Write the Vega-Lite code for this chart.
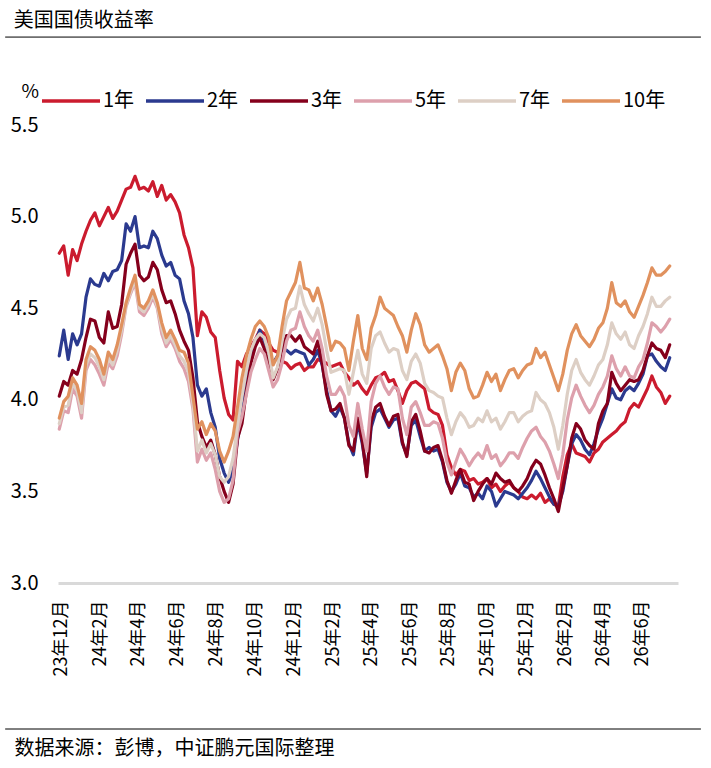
{
  "$schema": "https://vega.github.io/schema/vega-lite/v6.json",
  "background": "#ffffff",
  "padding": {"left": 4, "top": 10, "right": 5, "bottom": 6},
  "title": {"text": "美国国债收益率", "anchor": "start", "frame": "bounds", "fontSize": 20, "fontWeight": "normal", "color": "#000000", "offset": 6, "dx": 9},
  "width": 620,
  "height": 458,
  "config": {
    "font": "Noto Sans CJK SC",
    "view": {"stroke": null}
  },
  "layer": [
    {
      "data": {
        "format": {"parse": {"d": "date:'%Y-%m-%d'"}},
        "values": [
{"d":"2023-11-28","s":"1年","v":4.80},{"d":"2023-12-05","s":"1年","v":4.84},{"d":"2023-12-12","s":"1年","v":4.68},{"d":"2023-12-19","s":"1年","v":4.82},{"d":"2023-12-26","s":"1年","v":4.76},
{"d":"2024-01-02","s":"1年","v":4.85},{"d":"2024-01-09","s":"1年","v":4.92},{"d":"2024-01-16","s":"1年","v":4.98},{"d":"2024-01-23","s":"1年","v":5.02},{"d":"2024-01-30","s":"1年","v":4.95},
{"d":"2024-02-06","s":"1年","v":5.00},{"d":"2024-02-13","s":"1年","v":5.05},{"d":"2024-02-20","s":"1年","v":4.99},{"d":"2024-02-27","s":"1年","v":5.03},{"d":"2024-03-05","s":"1年","v":5.09},
{"d":"2024-03-12","s":"1年","v":5.15},{"d":"2024-03-19","s":"1年","v":5.16},{"d":"2024-03-26","s":"1年","v":5.22},{"d":"2024-04-02","s":"1年","v":5.15},{"d":"2024-04-09","s":"1年","v":5.16},
{"d":"2024-04-16","s":"1年","v":5.14},{"d":"2024-04-23","s":"1年","v":5.19},{"d":"2024-04-30","s":"1年","v":5.11},{"d":"2024-05-07","s":"1年","v":5.17},{"d":"2024-05-14","s":"1年","v":5.09},
{"d":"2024-05-21","s":"1年","v":5.12},{"d":"2024-05-28","s":"1年","v":5.08},{"d":"2024-06-04","s":"1年","v":5.02},{"d":"2024-06-11","s":"1年","v":4.90},{"d":"2024-06-18","s":"1年","v":4.83},
{"d":"2024-06-25","s":"1年","v":4.72},{"d":"2024-07-02","s":"1年","v":4.35},{"d":"2024-07-09","s":"1年","v":4.48},{"d":"2024-07-16","s":"1年","v":4.45},{"d":"2024-07-23","s":"1年","v":4.37},
{"d":"2024-07-30","s":"1年","v":4.34},{"d":"2024-08-06","s":"1年","v":4.16},{"d":"2024-08-13","s":"1年","v":4.01},{"d":"2024-08-20","s":"1年","v":3.92},{"d":"2024-08-27","s":"1年","v":3.89},
{"d":"2024-09-03","s":"1年","v":4.21},{"d":"2024-09-10","s":"1年","v":4.18},{"d":"2024-09-17","s":"1年","v":4.25},{"d":"2024-09-24","s":"1年","v":4.29},{"d":"2024-10-01","s":"1年","v":4.33},
{"d":"2024-10-08","s":"1年","v":4.38},{"d":"2024-10-15","s":"1年","v":4.36},{"d":"2024-10-22","s":"1年","v":4.31},{"d":"2024-10-29","s":"1年","v":4.27},{"d":"2024-11-05","s":"1年","v":4.26},
{"d":"2024-11-12","s":"1年","v":4.21},{"d":"2024-11-19","s":"1年","v":4.20},{"d":"2024-11-26","s":"1年","v":4.17},{"d":"2024-12-03","s":"1年","v":4.19},{"d":"2024-12-10","s":"1年","v":4.20},
{"d":"2024-12-17","s":"1年","v":4.16},{"d":"2024-12-24","s":"1年","v":4.18},{"d":"2024-12-31","s":"1年","v":4.18},{"d":"2025-01-07","s":"1年","v":4.22},{"d":"2025-01-14","s":"1年","v":4.21},
{"d":"2025-01-21","s":"1年","v":4.20},{"d":"2025-01-28","s":"1年","v":4.18},{"d":"2025-02-04","s":"1年","v":4.19},{"d":"2025-02-11","s":"1年","v":4.20},{"d":"2025-02-18","s":"1年","v":4.15},
{"d":"2025-02-25","s":"1年","v":4.12},{"d":"2025-03-04","s":"1年","v":4.08},{"d":"2025-03-11","s":"1年","v":4.10},{"d":"2025-03-18","s":"1年","v":4.06},{"d":"2025-03-25","s":"1年","v":4.03},
{"d":"2025-04-01","s":"1年","v":4.08},{"d":"2025-04-08","s":"1年","v":4.12},{"d":"2025-04-15","s":"1年","v":4.13},{"d":"2025-04-22","s":"1年","v":4.15},{"d":"2025-04-29","s":"1年","v":4.10},
{"d":"2025-05-06","s":"1年","v":4.11},{"d":"2025-05-13","s":"1年","v":4.05},{"d":"2025-05-20","s":"1年","v":3.98},{"d":"2025-05-27","s":"1年","v":4.05},{"d":"2025-06-03","s":"1年","v":4.09},
{"d":"2025-06-10","s":"1年","v":4.10},{"d":"2025-06-17","s":"1年","v":4.08},{"d":"2025-06-24","s":"1年","v":4.06},{"d":"2025-07-01","s":"1年","v":3.95},{"d":"2025-07-08","s":"1年","v":3.93},
{"d":"2025-07-15","s":"1年","v":3.92},{"d":"2025-07-22","s":"1年","v":3.86},{"d":"2025-07-29","s":"1年","v":3.70},{"d":"2025-08-05","s":"1年","v":3.63},{"d":"2025-08-12","s":"1年","v":3.59},
{"d":"2025-08-19","s":"1年","v":3.62},{"d":"2025-08-26","s":"1年","v":3.61},{"d":"2025-09-02","s":"1年","v":3.56},{"d":"2025-09-09","s":"1年","v":3.57},{"d":"2025-09-16","s":"1年","v":3.54},
{"d":"2025-09-23","s":"1年","v":3.55},{"d":"2025-09-30","s":"1年","v":3.57},{"d":"2025-10-07","s":"1年","v":3.52},{"d":"2025-10-14","s":"1年","v":3.54},{"d":"2025-10-21","s":"1年","v":3.50},
{"d":"2025-10-28","s":"1年","v":3.53},{"d":"2025-11-04","s":"1年","v":3.55},{"d":"2025-11-11","s":"1年","v":3.52},{"d":"2025-11-18","s":"1年","v":3.50},{"d":"2025-11-25","s":"1年","v":3.47},
{"d":"2025-12-02","s":"1年","v":3.46},{"d":"2025-12-09","s":"1年","v":3.48},{"d":"2025-12-16","s":"1年","v":3.46},{"d":"2025-12-23","s":"1年","v":3.49},{"d":"2025-12-30","s":"1年","v":3.44},
{"d":"2026-01-06","s":"1年","v":3.46},{"d":"2026-01-13","s":"1年","v":3.43},{"d":"2026-01-20","s":"1年","v":3.42},{"d":"2026-01-27","s":"1年","v":3.58},{"d":"2026-02-03","s":"1年","v":3.70},
{"d":"2026-02-10","s":"1年","v":3.76},{"d":"2026-02-17","s":"1年","v":3.71},{"d":"2026-02-24","s":"1年","v":3.70},{"d":"2026-03-03","s":"1年","v":3.69},{"d":"2026-03-10","s":"1年","v":3.66},
{"d":"2026-03-17","s":"1年","v":3.71},{"d":"2026-03-24","s":"1年","v":3.73},{"d":"2026-03-31","s":"1年","v":3.77},{"d":"2026-04-07","s":"1年","v":3.79},{"d":"2026-04-14","s":"1年","v":3.81},
{"d":"2026-04-21","s":"1年","v":3.83},{"d":"2026-04-28","s":"1年","v":3.86},{"d":"2026-05-05","s":"1年","v":3.88},{"d":"2026-05-12","s":"1年","v":3.95},{"d":"2026-05-19","s":"1年","v":3.98},
{"d":"2026-05-26","s":"1年","v":3.96},{"d":"2026-06-02","s":"1年","v":4.01},{"d":"2026-06-09","s":"1年","v":4.06},{"d":"2026-06-16","s":"1年","v":4.13},{"d":"2026-06-23","s":"1年","v":4.07},
{"d":"2026-06-30","s":"1年","v":4.04},{"d":"2026-07-07","s":"1年","v":3.98},{"d":"2026-07-14","s":"1年","v":4.02},

{"d":"2023-11-28","s":"2年","v":4.24},{"d":"2023-12-05","s":"2年","v":4.38},{"d":"2023-12-12","s":"2年","v":4.22},{"d":"2023-12-19","s":"2年","v":4.36},{"d":"2023-12-26","s":"2年","v":4.30},
{"d":"2024-01-02","s":"2年","v":4.36},{"d":"2024-01-09","s":"2年","v":4.56},{"d":"2024-01-16","s":"2年","v":4.66},{"d":"2024-01-23","s":"2年","v":4.63},{"d":"2024-01-30","s":"2年","v":4.62},
{"d":"2024-02-06","s":"2年","v":4.69},{"d":"2024-02-13","s":"2年","v":4.65},{"d":"2024-02-20","s":"2年","v":4.70},{"d":"2024-02-27","s":"2年","v":4.71},{"d":"2024-03-05","s":"2年","v":4.76},
{"d":"2024-03-12","s":"2年","v":4.96},{"d":"2024-03-19","s":"2年","v":4.92},{"d":"2024-03-26","s":"2年","v":5.00},{"d":"2024-04-02","s":"2年","v":4.83},{"d":"2024-04-09","s":"2年","v":4.84},
{"d":"2024-04-16","s":"2年","v":4.83},{"d":"2024-04-23","s":"2年","v":4.92},{"d":"2024-04-30","s":"2年","v":4.88},{"d":"2024-05-07","s":"2年","v":4.79},{"d":"2024-05-14","s":"2年","v":4.73},
{"d":"2024-05-21","s":"2年","v":4.75},{"d":"2024-05-28","s":"2年","v":4.68},{"d":"2024-06-04","s":"2年","v":4.66},{"d":"2024-06-11","s":"2年","v":4.54},{"d":"2024-06-18","s":"2年","v":4.47},
{"d":"2024-06-25","s":"2年","v":4.34},{"d":"2024-07-02","s":"2年","v":4.08},{"d":"2024-07-09","s":"2年","v":4.02},{"d":"2024-07-16","s":"2年","v":4.06},{"d":"2024-07-23","s":"2年","v":3.93},
{"d":"2024-07-30","s":"2年","v":3.85},{"d":"2024-08-06","s":"2年","v":3.68},{"d":"2024-08-13","s":"2年","v":3.60},{"d":"2024-08-20","s":"2年","v":3.55},{"d":"2024-08-27","s":"2年","v":3.62},
{"d":"2024-09-03","s":"2年","v":3.78},{"d":"2024-09-10","s":"2年","v":3.92},{"d":"2024-09-17","s":"2年","v":4.09},{"d":"2024-09-24","s":"2年","v":4.22},{"d":"2024-10-01","s":"2年","v":4.31},
{"d":"2024-10-08","s":"2年","v":4.38},{"d":"2024-10-15","s":"2年","v":4.32},{"d":"2024-10-22","s":"2年","v":4.26},{"d":"2024-10-29","s":"2年","v":4.20},{"d":"2024-11-05","s":"2年","v":4.24},
{"d":"2024-11-12","s":"2年","v":4.28},{"d":"2024-11-19","s":"2年","v":4.27},{"d":"2024-11-26","s":"2年","v":4.25},{"d":"2024-12-03","s":"2年","v":4.27},{"d":"2024-12-10","s":"2年","v":4.26},
{"d":"2024-12-17","s":"2年","v":4.25},{"d":"2024-12-24","s":"2年","v":4.19},{"d":"2024-12-31","s":"2年","v":4.22},{"d":"2025-01-07","s":"2年","v":4.27},{"d":"2025-01-14","s":"2年","v":4.19},
{"d":"2025-01-21","s":"2年","v":4.05},{"d":"2025-01-28","s":"2年","v":3.94},{"d":"2025-02-04","s":"2年","v":3.91},{"d":"2025-02-11","s":"2年","v":3.96},{"d":"2025-02-18","s":"2年","v":3.90},
{"d":"2025-02-25","s":"2年","v":3.76},{"d":"2025-03-04","s":"2年","v":3.70},{"d":"2025-03-11","s":"2年","v":3.88},{"d":"2025-03-18","s":"2年","v":3.76},{"d":"2025-03-25","s":"2年","v":3.60},
{"d":"2025-04-01","s":"2年","v":3.85},{"d":"2025-04-08","s":"2年","v":3.93},{"d":"2025-04-15","s":"2年","v":3.95},{"d":"2025-04-22","s":"2年","v":3.90},{"d":"2025-04-29","s":"2年","v":3.85},
{"d":"2025-05-06","s":"2年","v":3.89},{"d":"2025-05-13","s":"2年","v":3.90},{"d":"2025-05-20","s":"2年","v":3.76},{"d":"2025-05-27","s":"2年","v":3.70},{"d":"2025-06-03","s":"2年","v":3.86},
{"d":"2025-06-10","s":"2年","v":3.89},{"d":"2025-06-17","s":"2年","v":3.80},{"d":"2025-06-24","s":"2年","v":3.72},{"d":"2025-07-01","s":"2年","v":3.74},{"d":"2025-07-08","s":"2年","v":3.72},
{"d":"2025-07-15","s":"2年","v":3.73},{"d":"2025-07-22","s":"2年","v":3.66},{"d":"2025-07-29","s":"2年","v":3.55},{"d":"2025-08-05","s":"2年","v":3.50},{"d":"2025-08-12","s":"2年","v":3.54},
{"d":"2025-08-19","s":"2年","v":3.60},{"d":"2025-08-26","s":"2年","v":3.53},{"d":"2025-09-02","s":"2年","v":3.52},{"d":"2025-09-09","s":"2年","v":3.47},{"d":"2025-09-16","s":"2年","v":3.49},
{"d":"2025-09-23","s":"2年","v":3.46},{"d":"2025-09-30","s":"2年","v":3.53},{"d":"2025-10-07","s":"2年","v":3.50},{"d":"2025-10-14","s":"2年","v":3.42},{"d":"2025-10-21","s":"2年","v":3.46},
{"d":"2025-10-28","s":"2年","v":3.50},{"d":"2025-11-04","s":"2年","v":3.49},{"d":"2025-11-11","s":"2年","v":3.48},{"d":"2025-11-18","s":"2年","v":3.46},{"d":"2025-11-25","s":"2年","v":3.49},
{"d":"2025-12-02","s":"2年","v":3.52},{"d":"2025-12-09","s":"2年","v":3.56},{"d":"2025-12-16","s":"2年","v":3.61},{"d":"2025-12-23","s":"2年","v":3.57},{"d":"2025-12-30","s":"2年","v":3.52},
{"d":"2026-01-06","s":"2年","v":3.47},{"d":"2026-01-13","s":"2年","v":3.43},{"d":"2026-01-20","s":"2年","v":3.42},{"d":"2026-01-27","s":"2年","v":3.50},{"d":"2026-02-03","s":"2年","v":3.64},
{"d":"2026-02-10","s":"2年","v":3.76},{"d":"2026-02-17","s":"2年","v":3.81},{"d":"2026-02-24","s":"2年","v":3.78},{"d":"2026-03-03","s":"2年","v":3.73},{"d":"2026-03-10","s":"2年","v":3.70},
{"d":"2026-03-17","s":"2年","v":3.76},{"d":"2026-03-24","s":"2年","v":3.84},{"d":"2026-03-31","s":"2年","v":3.90},{"d":"2026-04-07","s":"2年","v":3.98},{"d":"2026-04-14","s":"2年","v":4.06},
{"d":"2026-04-21","s":"2年","v":4.01},{"d":"2026-04-28","s":"2年","v":4.00},{"d":"2026-05-05","s":"2年","v":4.05},{"d":"2026-05-12","s":"2年","v":4.07},{"d":"2026-05-19","s":"2年","v":4.05},
{"d":"2026-05-26","s":"2年","v":4.09},{"d":"2026-06-02","s":"2年","v":4.14},{"d":"2026-06-09","s":"2年","v":4.24},{"d":"2026-06-16","s":"2年","v":4.25},{"d":"2026-06-23","s":"2年","v":4.21},
{"d":"2026-06-30","s":"2年","v":4.18},{"d":"2026-07-07","s":"2年","v":4.16},{"d":"2026-07-14","s":"2年","v":4.23},

{"d":"2023-11-28","s":"3年","v":4.02},{"d":"2023-12-05","s":"3年","v":4.10},{"d":"2023-12-12","s":"3年","v":4.08},{"d":"2023-12-19","s":"3年","v":4.16},{"d":"2023-12-26","s":"3年","v":4.14},
{"d":"2024-01-02","s":"3年","v":4.22},{"d":"2024-01-09","s":"3年","v":4.34},{"d":"2024-01-16","s":"3年","v":4.44},{"d":"2024-01-23","s":"3年","v":4.43},{"d":"2024-01-30","s":"3年","v":4.34},
{"d":"2024-02-06","s":"3年","v":4.31},{"d":"2024-02-13","s":"3年","v":4.48},{"d":"2024-02-20","s":"3年","v":4.39},{"d":"2024-02-27","s":"3年","v":4.40},{"d":"2024-03-05","s":"3年","v":4.52},
{"d":"2024-03-12","s":"3年","v":4.74},{"d":"2024-03-19","s":"3年","v":4.80},{"d":"2024-03-26","s":"3年","v":4.85},{"d":"2024-04-02","s":"3年","v":4.68},{"d":"2024-04-09","s":"3年","v":4.65},
{"d":"2024-04-16","s":"3年","v":4.67},{"d":"2024-04-23","s":"3年","v":4.75},{"d":"2024-04-30","s":"3年","v":4.71},{"d":"2024-05-07","s":"3年","v":4.60},{"d":"2024-05-14","s":"3年","v":4.53},
{"d":"2024-05-21","s":"3年","v":4.54},{"d":"2024-05-28","s":"3年","v":4.47},{"d":"2024-06-04","s":"3年","v":4.38},{"d":"2024-06-11","s":"3年","v":4.32},{"d":"2024-06-18","s":"3年","v":4.27},
{"d":"2024-06-25","s":"3年","v":4.12},{"d":"2024-07-02","s":"3年","v":3.88},{"d":"2024-07-09","s":"3年","v":3.80},{"d":"2024-07-16","s":"3年","v":3.74},{"d":"2024-07-23","s":"3年","v":3.78},
{"d":"2024-07-30","s":"3年","v":3.70},{"d":"2024-08-06","s":"3年","v":3.58},{"d":"2024-08-13","s":"3年","v":3.50},{"d":"2024-08-20","s":"3年","v":3.44},{"d":"2024-08-27","s":"3年","v":3.54},
{"d":"2024-09-03","s":"3年","v":3.79},{"d":"2024-09-10","s":"3年","v":3.87},{"d":"2024-09-17","s":"3年","v":4.05},{"d":"2024-09-24","s":"3年","v":4.20},{"d":"2024-10-01","s":"3年","v":4.29},
{"d":"2024-10-08","s":"3年","v":4.34},{"d":"2024-10-15","s":"3年","v":4.28},{"d":"2024-10-22","s":"3年","v":4.20},{"d":"2024-10-29","s":"3年","v":4.11},{"d":"2024-11-05","s":"3年","v":4.17},
{"d":"2024-11-12","s":"3年","v":4.28},{"d":"2024-11-19","s":"3年","v":4.35},{"d":"2024-11-26","s":"3年","v":4.35},{"d":"2024-12-03","s":"3年","v":4.32},{"d":"2024-12-10","s":"3年","v":4.35},
{"d":"2024-12-17","s":"3年","v":4.29},{"d":"2024-12-24","s":"3年","v":4.27},{"d":"2024-12-31","s":"3年","v":4.25},{"d":"2025-01-07","s":"3年","v":4.32},{"d":"2025-01-14","s":"3年","v":4.20},
{"d":"2025-01-21","s":"3年","v":4.03},{"d":"2025-01-28","s":"3年","v":3.94},{"d":"2025-02-04","s":"3年","v":3.95},{"d":"2025-02-11","s":"3年","v":3.98},{"d":"2025-02-18","s":"3年","v":3.90},
{"d":"2025-02-25","s":"3年","v":3.75},{"d":"2025-03-04","s":"3年","v":3.72},{"d":"2025-03-11","s":"3年","v":3.90},{"d":"2025-03-18","s":"3年","v":3.78},{"d":"2025-03-25","s":"3年","v":3.58},
{"d":"2025-04-01","s":"3年","v":3.88},{"d":"2025-04-08","s":"3年","v":3.96},{"d":"2025-04-15","s":"3年","v":3.98},{"d":"2025-04-22","s":"3年","v":3.91},{"d":"2025-04-29","s":"3年","v":3.86},
{"d":"2025-05-06","s":"3年","v":3.91},{"d":"2025-05-13","s":"3年","v":3.92},{"d":"2025-05-20","s":"3年","v":3.77},{"d":"2025-05-27","s":"3年","v":3.69},{"d":"2025-06-03","s":"3年","v":3.88},
{"d":"2025-06-10","s":"3年","v":3.92},{"d":"2025-06-17","s":"3年","v":3.83},{"d":"2025-06-24","s":"3年","v":3.72},{"d":"2025-07-01","s":"3年","v":3.71},{"d":"2025-07-08","s":"3年","v":3.74},
{"d":"2025-07-15","s":"3年","v":3.75},{"d":"2025-07-22","s":"3年","v":3.67},{"d":"2025-07-29","s":"3年","v":3.56},{"d":"2025-08-05","s":"3年","v":3.49},{"d":"2025-08-12","s":"3年","v":3.56},
{"d":"2025-08-19","s":"3年","v":3.62},{"d":"2025-08-26","s":"3年","v":3.55},{"d":"2025-09-02","s":"3年","v":3.54},{"d":"2025-09-09","s":"3年","v":3.45},{"d":"2025-09-16","s":"3年","v":3.50},
{"d":"2025-09-23","s":"3年","v":3.54},{"d":"2025-09-30","s":"3年","v":3.57},{"d":"2025-10-07","s":"3年","v":3.54},{"d":"2025-10-14","s":"3年","v":3.60},{"d":"2025-10-21","s":"3年","v":3.57},
{"d":"2025-10-28","s":"3年","v":3.55},{"d":"2025-11-04","s":"3年","v":3.56},{"d":"2025-11-11","s":"3年","v":3.52},{"d":"2025-11-18","s":"3年","v":3.50},{"d":"2025-11-25","s":"3年","v":3.53},
{"d":"2025-12-02","s":"3年","v":3.57},{"d":"2025-12-09","s":"3年","v":3.63},{"d":"2025-12-16","s":"3年","v":3.67},{"d":"2025-12-23","s":"3年","v":3.65},{"d":"2025-12-30","s":"3年","v":3.59},
{"d":"2026-01-06","s":"3年","v":3.52},{"d":"2026-01-13","s":"3年","v":3.46},{"d":"2026-01-20","s":"3年","v":3.39},{"d":"2026-01-27","s":"3年","v":3.52},{"d":"2026-02-03","s":"3年","v":3.64},
{"d":"2026-02-10","s":"3年","v":3.79},{"d":"2026-02-17","s":"3年","v":3.87},{"d":"2026-02-24","s":"3年","v":3.84},{"d":"2026-03-03","s":"3年","v":3.78},{"d":"2026-03-10","s":"3年","v":3.75},
{"d":"2026-03-17","s":"3年","v":3.73},{"d":"2026-03-24","s":"3年","v":3.87},{"d":"2026-03-31","s":"3年","v":3.94},{"d":"2026-04-07","s":"3年","v":3.98},{"d":"2026-04-14","s":"3年","v":4.15},
{"d":"2026-04-21","s":"3年","v":4.09},{"d":"2026-04-28","s":"3年","v":4.05},{"d":"2026-05-05","s":"3年","v":4.08},{"d":"2026-05-12","s":"3年","v":4.11},{"d":"2026-05-19","s":"3年","v":4.10},
{"d":"2026-05-26","s":"3年","v":4.11},{"d":"2026-06-02","s":"3年","v":4.16},{"d":"2026-06-09","s":"3年","v":4.24},{"d":"2026-06-16","s":"3年","v":4.31},{"d":"2026-06-23","s":"3年","v":4.28},
{"d":"2026-06-30","s":"3年","v":4.27},{"d":"2026-07-07","s":"3年","v":4.23},{"d":"2026-07-14","s":"3年","v":4.30},

{"d":"2023-11-28","s":"5年","v":3.84},{"d":"2023-12-05","s":"5年","v":3.94},{"d":"2023-12-12","s":"5年","v":3.93},{"d":"2023-12-19","s":"5年","v":4.06},{"d":"2023-12-26","s":"5年","v":4.02},
{"d":"2024-01-02","s":"5年","v":3.90},{"d":"2024-01-09","s":"5年","v":4.16},{"d":"2024-01-16","s":"5年","v":4.22},{"d":"2024-01-23","s":"5年","v":4.19},{"d":"2024-01-30","s":"5年","v":4.14},
{"d":"2024-02-06","s":"5年","v":4.08},{"d":"2024-02-13","s":"5年","v":4.20},{"d":"2024-02-20","s":"5年","v":4.17},{"d":"2024-02-27","s":"5年","v":4.24},{"d":"2024-03-05","s":"5年","v":4.36},
{"d":"2024-03-12","s":"5年","v":4.51},{"d":"2024-03-19","s":"5年","v":4.58},{"d":"2024-03-26","s":"5年","v":4.64},{"d":"2024-04-02","s":"5年","v":4.48},{"d":"2024-04-09","s":"5年","v":4.46},
{"d":"2024-04-16","s":"5年","v":4.50},{"d":"2024-04-23","s":"5年","v":4.56},{"d":"2024-04-30","s":"5年","v":4.50},{"d":"2024-05-07","s":"5年","v":4.36},{"d":"2024-05-14","s":"5年","v":4.29},
{"d":"2024-05-21","s":"5年","v":4.33},{"d":"2024-05-28","s":"5年","v":4.28},{"d":"2024-06-04","s":"5年","v":4.21},{"d":"2024-06-11","s":"5年","v":4.17},{"d":"2024-06-18","s":"5年","v":4.10},
{"d":"2024-06-25","s":"5年","v":3.95},{"d":"2024-07-02","s":"5年","v":3.66},{"d":"2024-07-09","s":"5年","v":3.73},{"d":"2024-07-16","s":"5年","v":3.67},{"d":"2024-07-23","s":"5年","v":3.71},
{"d":"2024-07-30","s":"5年","v":3.62},{"d":"2024-08-06","s":"5年","v":3.50},{"d":"2024-08-13","s":"5年","v":3.44},{"d":"2024-08-20","s":"5年","v":3.46},{"d":"2024-08-27","s":"5年","v":3.56},
{"d":"2024-09-03","s":"5年","v":3.82},{"d":"2024-09-10","s":"5年","v":3.91},{"d":"2024-09-17","s":"5年","v":4.03},{"d":"2024-09-24","s":"5年","v":4.15},{"d":"2024-10-01","s":"5年","v":4.22},
{"d":"2024-10-08","s":"5年","v":4.28},{"d":"2024-10-15","s":"5年","v":4.25},{"d":"2024-10-22","s":"5年","v":4.16},{"d":"2024-10-29","s":"5年","v":4.07},{"d":"2024-11-05","s":"5年","v":4.11},
{"d":"2024-11-12","s":"5年","v":4.20},{"d":"2024-11-19","s":"5年","v":4.32},{"d":"2024-11-26","s":"5年","v":4.38},{"d":"2024-12-03","s":"5年","v":4.39},{"d":"2024-12-10","s":"5年","v":4.48},
{"d":"2024-12-17","s":"5年","v":4.40},{"d":"2024-12-24","s":"5年","v":4.35},{"d":"2024-12-31","s":"5年","v":4.32},{"d":"2025-01-07","s":"5年","v":4.38},{"d":"2025-01-14","s":"5年","v":4.28},
{"d":"2025-01-21","s":"5年","v":4.13},{"d":"2025-01-28","s":"5年","v":4.03},{"d":"2025-02-04","s":"5年","v":4.03},{"d":"2025-02-11","s":"5年","v":4.07},{"d":"2025-02-18","s":"5年","v":4.02},
{"d":"2025-02-25","s":"5年","v":3.86},{"d":"2025-03-04","s":"5年","v":3.80},{"d":"2025-03-11","s":"5年","v":3.98},{"d":"2025-03-18","s":"5年","v":3.84},{"d":"2025-03-25","s":"5年","v":3.72},
{"d":"2025-04-01","s":"5年","v":3.99},{"d":"2025-04-08","s":"5年","v":4.09},{"d":"2025-04-15","s":"5年","v":4.13},{"d":"2025-04-22","s":"5年","v":4.07},{"d":"2025-04-29","s":"5年","v":4.03},
{"d":"2025-05-06","s":"5年","v":4.07},{"d":"2025-05-13","s":"5年","v":4.06},{"d":"2025-05-20","s":"5年","v":3.90},{"d":"2025-05-27","s":"5年","v":3.81},{"d":"2025-06-03","s":"5年","v":3.96},
{"d":"2025-06-10","s":"5年","v":3.99},{"d":"2025-06-17","s":"5年","v":3.93},{"d":"2025-06-24","s":"5年","v":3.86},{"d":"2025-07-01","s":"5年","v":3.86},{"d":"2025-07-08","s":"5年","v":3.88},
{"d":"2025-07-15","s":"5年","v":3.87},{"d":"2025-07-22","s":"5年","v":3.79},{"d":"2025-07-29","s":"5年","v":3.66},{"d":"2025-08-05","s":"5年","v":3.59},{"d":"2025-08-12","s":"5年","v":3.66},
{"d":"2025-08-19","s":"5年","v":3.73},{"d":"2025-08-26","s":"5年","v":3.69},{"d":"2025-09-02","s":"5年","v":3.64},{"d":"2025-09-09","s":"5年","v":3.68},{"d":"2025-09-16","s":"5年","v":3.71},
{"d":"2025-09-23","s":"5年","v":3.68},{"d":"2025-09-30","s":"5年","v":3.75},{"d":"2025-10-07","s":"5年","v":3.68},{"d":"2025-10-14","s":"5年","v":3.70},{"d":"2025-10-21","s":"5年","v":3.64},
{"d":"2025-10-28","s":"5年","v":3.67},{"d":"2025-11-04","s":"5年","v":3.71},{"d":"2025-11-11","s":"5年","v":3.71},{"d":"2025-11-18","s":"5年","v":3.68},{"d":"2025-11-25","s":"5年","v":3.74},
{"d":"2025-12-02","s":"5年","v":3.79},{"d":"2025-12-09","s":"5年","v":3.83},{"d":"2025-12-16","s":"5年","v":3.85},{"d":"2025-12-23","s":"5年","v":3.80},{"d":"2025-12-30","s":"5年","v":3.77},
{"d":"2026-01-06","s":"5年","v":3.72},{"d":"2026-01-13","s":"5年","v":3.65},{"d":"2026-01-20","s":"5年","v":3.57},{"d":"2026-01-27","s":"5年","v":3.70},{"d":"2026-02-03","s":"5年","v":3.89},
{"d":"2026-02-10","s":"5年","v":4.01},{"d":"2026-02-17","s":"5年","v":4.08},{"d":"2026-02-24","s":"5年","v":4.02},{"d":"2026-03-03","s":"5年","v":3.97},{"d":"2026-03-10","s":"5年","v":3.93},
{"d":"2026-03-17","s":"5年","v":3.97},{"d":"2026-03-24","s":"5年","v":4.03},{"d":"2026-03-31","s":"5年","v":4.07},{"d":"2026-04-07","s":"5年","v":4.13},{"d":"2026-04-14","s":"5年","v":4.24},
{"d":"2026-04-21","s":"5年","v":4.17},{"d":"2026-04-28","s":"5年","v":4.13},{"d":"2026-05-05","s":"5年","v":4.18},{"d":"2026-05-12","s":"5年","v":4.13},{"d":"2026-05-19","s":"5年","v":4.12},
{"d":"2026-05-26","s":"5年","v":4.18},{"d":"2026-06-02","s":"5年","v":4.22},{"d":"2026-06-09","s":"5年","v":4.31},{"d":"2026-06-16","s":"5年","v":4.42},{"d":"2026-06-23","s":"5年","v":4.40},
{"d":"2026-06-30","s":"5年","v":4.37},{"d":"2026-07-07","s":"5年","v":4.40},{"d":"2026-07-14","s":"5年","v":4.44},

{"d":"2023-11-28","s":"7年","v":3.87},{"d":"2023-12-05","s":"7年","v":3.96},{"d":"2023-12-12","s":"7年","v":3.97},{"d":"2023-12-19","s":"7年","v":4.09},{"d":"2023-12-26","s":"7年","v":4.05},
{"d":"2024-01-02","s":"7年","v":3.93},{"d":"2024-01-09","s":"7年","v":4.19},{"d":"2024-01-16","s":"7年","v":4.25},{"d":"2024-01-23","s":"7年","v":4.23},{"d":"2024-01-30","s":"7年","v":4.18},
{"d":"2024-02-06","s":"7年","v":4.11},{"d":"2024-02-13","s":"7年","v":4.23},{"d":"2024-02-20","s":"7年","v":4.19},{"d":"2024-02-27","s":"7年","v":4.27},{"d":"2024-03-05","s":"7年","v":4.38},
{"d":"2024-03-12","s":"7年","v":4.52},{"d":"2024-03-19","s":"7年","v":4.59},{"d":"2024-03-26","s":"7年","v":4.66},{"d":"2024-04-02","s":"7年","v":4.50},{"d":"2024-04-09","s":"7年","v":4.48},
{"d":"2024-04-16","s":"7年","v":4.52},{"d":"2024-04-23","s":"7年","v":4.58},{"d":"2024-04-30","s":"7年","v":4.51},{"d":"2024-05-07","s":"7年","v":4.39},{"d":"2024-05-14","s":"7年","v":4.31},
{"d":"2024-05-21","s":"7年","v":4.35},{"d":"2024-05-28","s":"7年","v":4.30},{"d":"2024-06-04","s":"7年","v":4.24},{"d":"2024-06-11","s":"7年","v":4.21},{"d":"2024-06-18","s":"7年","v":4.15},
{"d":"2024-06-25","s":"7年","v":3.98},{"d":"2024-07-02","s":"7年","v":3.72},{"d":"2024-07-09","s":"7年","v":3.78},{"d":"2024-07-16","s":"7年","v":3.71},{"d":"2024-07-23","s":"7年","v":3.76},
{"d":"2024-07-30","s":"7年","v":3.70},{"d":"2024-08-06","s":"7年","v":3.58},{"d":"2024-08-13","s":"7年","v":3.55},{"d":"2024-08-20","s":"7年","v":3.58},{"d":"2024-08-27","s":"7年","v":3.68},
{"d":"2024-09-03","s":"7年","v":3.86},{"d":"2024-09-10","s":"7年","v":4.02},{"d":"2024-09-17","s":"7年","v":4.16},{"d":"2024-09-24","s":"7年","v":4.27},{"d":"2024-10-01","s":"7年","v":4.33},
{"d":"2024-10-08","s":"7年","v":4.36},{"d":"2024-10-15","s":"7年","v":4.34},{"d":"2024-10-22","s":"7年","v":4.26},{"d":"2024-10-29","s":"7年","v":4.12},{"d":"2024-11-05","s":"7年","v":4.18},
{"d":"2024-11-12","s":"7年","v":4.32},{"d":"2024-11-19","s":"7年","v":4.44},{"d":"2024-11-26","s":"7年","v":4.49},{"d":"2024-12-03","s":"7年","v":4.50},{"d":"2024-12-10","s":"7年","v":4.62},
{"d":"2024-12-17","s":"7年","v":4.52},{"d":"2024-12-24","s":"7年","v":4.47},{"d":"2024-12-31","s":"7年","v":4.43},{"d":"2025-01-07","s":"7年","v":4.50},{"d":"2025-01-14","s":"7年","v":4.41},
{"d":"2025-01-21","s":"7年","v":4.27},{"d":"2025-01-28","s":"7年","v":4.15},{"d":"2025-02-04","s":"7年","v":4.16},{"d":"2025-02-11","s":"7年","v":4.17},{"d":"2025-02-18","s":"7年","v":4.16},
{"d":"2025-02-25","s":"7年","v":4.03},{"d":"2025-03-04","s":"7年","v":4.15},{"d":"2025-03-11","s":"7年","v":4.27},{"d":"2025-03-18","s":"7年","v":4.14},{"d":"2025-03-25","s":"7年","v":4.09},
{"d":"2025-04-01","s":"7年","v":4.28},{"d":"2025-04-08","s":"7年","v":4.35},{"d":"2025-04-15","s":"7年","v":4.37},{"d":"2025-04-22","s":"7年","v":4.31},{"d":"2025-04-29","s":"7年","v":4.26},
{"d":"2025-05-06","s":"7年","v":4.28},{"d":"2025-05-13","s":"7年","v":4.27},{"d":"2025-05-20","s":"7年","v":4.16},{"d":"2025-05-27","s":"7年","v":4.11},{"d":"2025-06-03","s":"7年","v":4.21},
{"d":"2025-06-10","s":"7年","v":4.25},{"d":"2025-06-17","s":"7年","v":4.20},{"d":"2025-06-24","s":"7年","v":4.09},{"d":"2025-07-01","s":"7年","v":4.05},{"d":"2025-07-08","s":"7年","v":4.04},
{"d":"2025-07-15","s":"7年","v":4.02},{"d":"2025-07-22","s":"7年","v":4.01},{"d":"2025-07-29","s":"7年","v":3.90},{"d":"2025-08-05","s":"7年","v":3.81},{"d":"2025-08-12","s":"7年","v":3.88},
{"d":"2025-08-19","s":"7年","v":3.93},{"d":"2025-08-26","s":"7年","v":3.90},{"d":"2025-09-02","s":"7年","v":3.85},{"d":"2025-09-09","s":"7年","v":3.86},{"d":"2025-09-16","s":"7年","v":3.90},
{"d":"2025-09-23","s":"7年","v":3.88},{"d":"2025-09-30","s":"7年","v":3.94},{"d":"2025-10-07","s":"7年","v":3.88},{"d":"2025-10-14","s":"7年","v":3.90},{"d":"2025-10-21","s":"7年","v":3.84},
{"d":"2025-10-28","s":"7年","v":3.88},{"d":"2025-11-04","s":"7年","v":3.93},{"d":"2025-11-11","s":"7年","v":3.93},{"d":"2025-11-18","s":"7年","v":3.88},{"d":"2025-11-25","s":"7年","v":3.91},
{"d":"2025-12-02","s":"7年","v":3.93},{"d":"2025-12-09","s":"7年","v":3.94},{"d":"2025-12-16","s":"7年","v":4.04},{"d":"2025-12-23","s":"7年","v":4.00},{"d":"2025-12-30","s":"7年","v":3.98},
{"d":"2026-01-06","s":"7年","v":3.93},{"d":"2026-01-13","s":"7年","v":3.85},{"d":"2026-01-20","s":"7年","v":3.73},{"d":"2026-01-27","s":"7年","v":3.86},{"d":"2026-02-03","s":"7年","v":4.03},
{"d":"2026-02-10","s":"7年","v":4.16},{"d":"2026-02-17","s":"7年","v":4.22},{"d":"2026-02-24","s":"7年","v":4.15},{"d":"2026-03-03","s":"7年","v":4.11},{"d":"2026-03-10","s":"7年","v":4.08},
{"d":"2026-03-17","s":"7年","v":4.13},{"d":"2026-03-24","s":"7年","v":4.19},{"d":"2026-03-31","s":"7年","v":4.22},{"d":"2026-04-07","s":"7年","v":4.30},{"d":"2026-04-14","s":"7年","v":4.42},
{"d":"2026-04-21","s":"7年","v":4.36},{"d":"2026-04-28","s":"7年","v":4.33},{"d":"2026-05-05","s":"7年","v":4.37},{"d":"2026-05-12","s":"7年","v":4.30},{"d":"2026-05-19","s":"7年","v":4.28},
{"d":"2026-05-26","s":"7年","v":4.35},{"d":"2026-06-02","s":"7年","v":4.40},{"d":"2026-06-09","s":"7年","v":4.47},{"d":"2026-06-16","s":"7年","v":4.56},{"d":"2026-06-23","s":"7年","v":4.51},
{"d":"2026-06-30","s":"7年","v":4.51},{"d":"2026-07-07","s":"7年","v":4.54},{"d":"2026-07-14","s":"7年","v":4.56},

{"d":"2023-11-28","s":"10年","v":3.90},{"d":"2023-12-05","s":"10年","v":3.99},{"d":"2023-12-12","s":"10年","v":4.02},{"d":"2023-12-19","s":"10年","v":4.12},{"d":"2023-12-26","s":"10年","v":4.08},
{"d":"2024-01-02","s":"10年","v":3.98},{"d":"2024-01-09","s":"10年","v":4.22},{"d":"2024-01-16","s":"10年","v":4.29},{"d":"2024-01-23","s":"10年","v":4.27},{"d":"2024-01-30","s":"10年","v":4.22},
{"d":"2024-02-06","s":"10年","v":4.14},{"d":"2024-02-13","s":"10年","v":4.26},{"d":"2024-02-20","s":"10年","v":4.22},{"d":"2024-02-27","s":"10年","v":4.30},{"d":"2024-03-05","s":"10年","v":4.41},
{"d":"2024-03-12","s":"10年","v":4.53},{"d":"2024-03-19","s":"10年","v":4.61},{"d":"2024-03-26","s":"10年","v":4.68},{"d":"2024-04-02","s":"10年","v":4.52},{"d":"2024-04-09","s":"10年","v":4.50},
{"d":"2024-04-16","s":"10年","v":4.54},{"d":"2024-04-23","s":"10年","v":4.60},{"d":"2024-04-30","s":"10年","v":4.53},{"d":"2024-05-07","s":"10年","v":4.42},{"d":"2024-05-14","s":"10年","v":4.34},
{"d":"2024-05-21","s":"10年","v":4.38},{"d":"2024-05-28","s":"10年","v":4.33},{"d":"2024-06-04","s":"10年","v":4.27},{"d":"2024-06-11","s":"10年","v":4.26},{"d":"2024-06-18","s":"10年","v":4.20},
{"d":"2024-06-25","s":"10年","v":4.02},{"d":"2024-07-02","s":"10年","v":3.84},{"d":"2024-07-09","s":"10年","v":3.88},{"d":"2024-07-16","s":"10年","v":3.81},{"d":"2024-07-23","s":"10年","v":3.87},
{"d":"2024-07-30","s":"10年","v":3.83},{"d":"2024-08-06","s":"10年","v":3.72},{"d":"2024-08-13","s":"10年","v":3.66},{"d":"2024-08-20","s":"10年","v":3.72},{"d":"2024-08-27","s":"10年","v":3.80},
{"d":"2024-09-03","s":"10年","v":3.96},{"d":"2024-09-10","s":"10年","v":4.12},{"d":"2024-09-17","s":"10年","v":4.24},{"d":"2024-09-24","s":"10年","v":4.33},{"d":"2024-10-01","s":"10年","v":4.40},
{"d":"2024-10-08","s":"10年","v":4.43},{"d":"2024-10-15","s":"10年","v":4.40},{"d":"2024-10-22","s":"10年","v":4.34},{"d":"2024-10-29","s":"10年","v":4.19},{"d":"2024-11-05","s":"10年","v":4.24},
{"d":"2024-11-12","s":"10年","v":4.40},{"d":"2024-11-19","s":"10年","v":4.54},{"d":"2024-11-26","s":"10年","v":4.59},{"d":"2024-12-03","s":"10年","v":4.64},{"d":"2024-12-10","s":"10年","v":4.75},
{"d":"2024-12-17","s":"10年","v":4.61},{"d":"2024-12-24","s":"10年","v":4.60},{"d":"2024-12-31","s":"10年","v":4.54},{"d":"2025-01-07","s":"10年","v":4.61},{"d":"2025-01-14","s":"10年","v":4.52},
{"d":"2025-01-21","s":"10年","v":4.40},{"d":"2025-01-28","s":"10年","v":4.27},{"d":"2025-02-04","s":"10年","v":4.32},{"d":"2025-02-11","s":"10年","v":4.31},{"d":"2025-02-18","s":"10年","v":4.28},
{"d":"2025-02-25","s":"10年","v":4.16},{"d":"2025-03-04","s":"10年","v":4.32},{"d":"2025-03-11","s":"10年","v":4.46},{"d":"2025-03-18","s":"10年","v":4.28},{"d":"2025-03-25","s":"10年","v":4.22},
{"d":"2025-04-01","s":"10年","v":4.39},{"d":"2025-04-08","s":"10年","v":4.46},{"d":"2025-04-15","s":"10年","v":4.56},{"d":"2025-04-22","s":"10年","v":4.50},{"d":"2025-04-29","s":"10年","v":4.48},
{"d":"2025-05-06","s":"10年","v":4.46},{"d":"2025-05-13","s":"10年","v":4.40},{"d":"2025-05-20","s":"10年","v":4.35},{"d":"2025-05-27","s":"10年","v":4.26},{"d":"2025-06-03","s":"10年","v":4.38},
{"d":"2025-06-10","s":"10年","v":4.47},{"d":"2025-06-17","s":"10年","v":4.41},{"d":"2025-06-24","s":"10年","v":4.30},{"d":"2025-07-01","s":"10年","v":4.26},{"d":"2025-07-08","s":"10年","v":4.28},
{"d":"2025-07-15","s":"10年","v":4.30},{"d":"2025-07-22","s":"10年","v":4.24},{"d":"2025-07-29","s":"10年","v":4.17},{"d":"2025-08-05","s":"10年","v":4.05},{"d":"2025-08-12","s":"10年","v":4.15},
{"d":"2025-08-19","s":"10年","v":4.20},{"d":"2025-08-26","s":"10年","v":4.16},{"d":"2025-09-02","s":"10年","v":4.06},{"d":"2025-09-09","s":"10年","v":4.01},{"d":"2025-09-16","s":"10年","v":4.02},
{"d":"2025-09-23","s":"10年","v":4.08},{"d":"2025-09-30","s":"10年","v":4.15},{"d":"2025-10-07","s":"10年","v":4.10},{"d":"2025-10-14","s":"10年","v":4.14},{"d":"2025-10-21","s":"10年","v":4.05},
{"d":"2025-10-28","s":"10年","v":4.11},{"d":"2025-11-04","s":"10年","v":4.16},{"d":"2025-11-11","s":"10年","v":4.17},{"d":"2025-11-18","s":"10年","v":4.12},{"d":"2025-11-25","s":"10年","v":4.16},
{"d":"2025-12-02","s":"10年","v":4.19},{"d":"2025-12-09","s":"10年","v":4.20},{"d":"2025-12-16","s":"10年","v":4.28},{"d":"2025-12-23","s":"10年","v":4.23},{"d":"2025-12-30","s":"10年","v":4.26},
{"d":"2026-01-06","s":"10年","v":4.19},{"d":"2026-01-13","s":"10年","v":4.12},{"d":"2026-01-20","s":"10年","v":4.05},{"d":"2026-01-27","s":"10年","v":4.14},{"d":"2026-02-03","s":"10年","v":4.27},
{"d":"2026-02-10","s":"10年","v":4.36},{"d":"2026-02-17","s":"10年","v":4.41},{"d":"2026-02-24","s":"10年","v":4.35},{"d":"2026-03-03","s":"10年","v":4.32},{"d":"2026-03-10","s":"10年","v":4.29},
{"d":"2026-03-17","s":"10年","v":4.33},{"d":"2026-03-24","s":"10年","v":4.39},{"d":"2026-03-31","s":"10年","v":4.42},{"d":"2026-04-07","s":"10年","v":4.50},{"d":"2026-04-14","s":"10年","v":4.64},
{"d":"2026-04-21","s":"10年","v":4.53},{"d":"2026-04-28","s":"10年","v":4.51},{"d":"2026-05-05","s":"10年","v":4.54},{"d":"2026-05-12","s":"10年","v":4.48},{"d":"2026-05-19","s":"10年","v":4.45},
{"d":"2026-05-26","s":"10年","v":4.51},{"d":"2026-06-02","s":"10年","v":4.57},{"d":"2026-06-09","s":"10年","v":4.64},{"d":"2026-06-16","s":"10年","v":4.72},{"d":"2026-06-23","s":"10年","v":4.68},
{"d":"2026-06-30","s":"10年","v":4.68},{"d":"2026-07-07","s":"10年","v":4.70},{"d":"2026-07-14","s":"10年","v":4.73}
        ]
      },
      "mark": {"type": "line", "strokeWidth": 3.2, "strokeJoin": "round", "strokeCap": "round"},
      "encoding": {
        "x": {
          "field": "d", "type": "temporal",
          "scale": {"domain": [{"year": 2023, "month": 11, "date": 26}, {"year": 2026, "month": 7, "date": 27}]},
          "axis": {
            "values": [
              {"year": 2023, "month": 12, "date": 1},
              {"year": 2024, "month": 2, "date": 1}, {"year": 2024, "month": 4, "date": 1}, {"year": 2024, "month": 6, "date": 1},
              {"year": 2024, "month": 8, "date": 1}, {"year": 2024, "month": 10, "date": 1}, {"year": 2024, "month": 12, "date": 1},
              {"year": 2025, "month": 2, "date": 1}, {"year": 2025, "month": 4, "date": 1}, {"year": 2025, "month": 6, "date": 1},
              {"year": 2025, "month": 8, "date": 1}, {"year": 2025, "month": 10, "date": 1}, {"year": 2025, "month": 12, "date": 1},
              {"year": 2026, "month": 2, "date": 1}, {"year": 2026, "month": 4, "date": 1}, {"year": 2026, "month": 6, "date": 1}
            ],
            "format": "%y年%-m月",
            "labelAngle": -90,
            "labelAlign": "right",
            "labelBaseline": "middle",
            "labelFontSize": 18,
            "labelColor": "#000000",
            "labelPadding": 17,
            "labelOverlap": false,
            "labelFlush": false,
            "ticks": false,
            "grid": false,
            "domainColor": "#D9D9D9",
            "domainWidth": 3,
            "title": "数据来源：彭博，中证鹏元国际整理",
            "titleFontSize": 20,
            "titleFontWeight": "normal",
            "titleColor": "#000000",
            "titleAlign": "left",
            "titleBaseline": "middle",
            "titleX": -44,
            "titleY": 165
          }
        },
        "y": {
          "field": "v", "type": "quantitative",
          "scale": {"domain": [3, 5.5], "nice": false, "zero": false},
          "axis": {
            "values": [3, 3.5, 4, 4.5, 5, 5.5],
            "format": ".1f",
            "labelFontSize": 20,
            "labelColor": "#000000",
            "labelPadding": 20,
            "domain": false,
            "ticks": false,
            "grid": false,
            "title": "%",
            "titleAngle": 0,
            "titleX": -37,
            "titleY": -34,
            "titleAlign": "left",
            "titleBaseline": "middle",
            "titleFontSize": 19,
            "titleFontWeight": "normal",
            "titleColor": "#000000"
          }
        },
        "color": {
          "field": "s", "type": "nominal",
          "scale": {
            "domain": ["1年", "2年", "3年", "5年", "7年", "10年"],
            "range": ["#CB1B2E", "#2B3A8F", "#85001C", "#DDA0AC", "#DDCFC5", "#E0915E"]
          },
          "legend": {
            "orient": "none",
            "direction": "horizontal",
            "legendX": -18,
            "legendY": -55,
            "title": null,
            "padding": 0,
            "symbolType": "stroke",
            "symbolSize": 3364,
            "symbolStrokeWidth": 3.5,
            "labelFontSize": 20,
            "labelColor": "#000000",
            "labelOffset": 1,
            "columnPadding": 4,
            "labelLimit": 0
          }
        }
      }
    },
    {
      "data": {"values": [{}]},
      "mark": {"type": "rule", "color": "#000000", "strokeWidth": 1},
      "encoding": {
        "x": {"datum": {"year": 2023, "month": 9, "date": 4}, "type": "temporal"},
        "x2": {"datum": {"year": 2026, "month": 9, "date": 1}},
        "y": {"datum": 5.98, "type": "quantitative"}
      }
    },
    {
      "data": {"values": [{}]},
      "mark": {"type": "rule", "color": "#000000", "strokeWidth": 1},
      "encoding": {
        "x": {"datum": {"year": 2023, "month": 9, "date": 4}, "type": "temporal"},
        "x2": {"datum": {"year": 2026, "month": 9, "date": 1}},
        "y": {"datum": 2.203, "type": "quantitative"}
      }
    }
  ]
}
